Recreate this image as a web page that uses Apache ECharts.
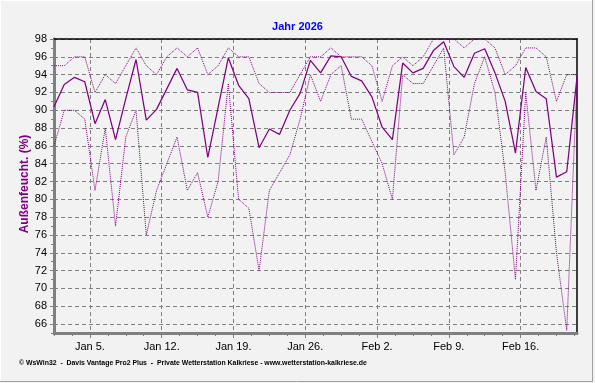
<!DOCTYPE html>
<html>
<head>
<meta charset="utf-8">
<script src="https://cdn.jsdelivr.net/npm/echarts@6/dist/echarts.min.js"></script>
<style>
html,body{margin:0;padding:0;background:#f2f2f2;}
#chart{width:595px;height:383px;}
</style>
</head>
<body>
<div id="chart"></div>
<script>
// Daily values, Jan 1 .. Feb 21 (2026)
const dayCount = 52;
const meanValues = [90.4,92.9,93.7,93.2,88.5,91.2,86.7,91.3,95.7,88.9,90.1,92.4,94.7,92.3,92.0,84.7,90.3,95.9,92.8,91.3,85.8,87.9,87.3,90.0,91.9,95.6,94.2,96.1,96.0,93.8,93.3,91.5,88.1,86.7,95.3,94.2,94.7,96.7,97.7,94.9,93.7,96.4,96.9,94.2,91.0,85.2,94.8,92.1,91.3,82.5,83.1,93.7];
const maxValues  = [95,95,96,96,92,94,93,95,97,95,94,96,97,96,97,94,95,97,96,96,93,92,92,92,94,96,96,97,96,96,96,95,91,95,96,95,96,98,98,98,97,98,98,97,94,95,97,97,96,91,94,94];
const minValues  = [86,90,90,89,81,88,77,87,90,76,81,84,87,81,83,78,82,93,80,79,72,81,83,85,89,94,91,94,95,89,89,86.5,84,80,94,93,93,95,97,85,87,93,96,92,83,71,92,81,87,74,65.3,93.5];
// x-axis tick labels and their day positions (days after Jan 1, 00:00)
const tickLabels = ['Jan 5.','Jan 12.','Jan 19.','Jan 26.','Feb 2.','Feb 9.','Feb 16.'];
const tickDays = [4,11,18,25,32,39,46];
// y-axis labelled ticks
const yTicks = [66,68,70,72,74,76,78,80,82,84,86,88,90,92,94,96,98];

const xMin = 0.5, xMax = dayCount - 0.5;
const yMin = 65, yMax = 98;

function pts(arr){ return arr.map((v,i)=>[i+0.5, v]); }

const xMinor = [];
for (let v = tickDays[0]; v >= xMin - 1e-6; v -= 1.75) xMinor.push(+v.toFixed(3));
for (let v = tickDays[0] + 1.75; v <= xMax + 1e-6; v += 1.75) xMinor.push(+v.toFixed(3));
const yMinor = [];
for (let v = yMin; v < yMax; v += 2) yMinor.push(v);

const purple = '#800080';
const gridGray = '#808080';
const font = 'Liberation Sans, Arial, sans-serif';

const chart = echarts.init(document.getElementById('chart'), null, {renderer:'canvas'});
chart.setOption({
  backgroundColor: '#f2f2f2',
  animation: false,
  title: {
    text: 'Jahr 2026', left: 'center', top: 16,
    textStyle: {color:'#0000ff', fontSize: 11, fontWeight:'bold', fontFamily: font}
  },
  grid: {left: 54, right: 18, top: 39, bottom: 50, containLabel: false, outerBoundsMode: 'none'},
  xAxis: [
    {
      type:'value', min:xMin, max:xMax, position:'bottom',
      axisLine:{show:true, lineStyle:{color:gridGray, width:3}},
      axisTick:{show:true, customValues: tickDays, length:5, lineStyle:{color:gridGray, width:1}},
      axisLabel:{show:true, customValues: tickDays, margin:8, color:'#000', fontSize:11, fontFamily:font,
        formatter: function(v){ const k = tickDays.indexOf(Math.round(v)); return k>=0 ? tickLabels[k] : ''; }},
      splitLine:{show:true, lineStyle:{color:gridGray, width:1, type:[4,3]}}
    },
    {
      type:'value', min:xMin, max:xMax, position:'bottom',
      axisLine:{show:false},
      axisTick:{show:true, customValues: xMinor, length:3, lineStyle:{color:gridGray, width:1}},
      axisLabel:{show:false}, splitLine:{show:false}
    },
    {
      type:'value', min:xMin, max:xMax, position:'top',
      axisLine:{show:true, lineStyle:{color:'#000', width:1.5}},
      axisTick:{show:false}, axisLabel:{show:false}, splitLine:{show:false}
    }
  ],
  yAxis: [
    {
      type:'value', min:yMin, max:yMax, position:'left',
      axisLine:{show:true, lineStyle:{color:gridGray, width:3}},
      axisTick:{show:true, customValues: yTicks, length:4, lineStyle:{color:gridGray, width:1}},
      axisLabel:{show:true, customValues: yTicks, margin:7, color:'#000', fontSize:11, fontFamily:font},
      splitLine:{show:true, lineStyle:{color:gridGray, width:1, type:[4,3]}}
    },
    {
      type:'value', min:yMin, max:yMax, position:'left',
      axisLine:{show:false},
      axisTick:{show:true, customValues: yMinor, length:3, lineStyle:{color:gridGray, width:1}},
      axisLabel:{show:false}, splitLine:{show:false}
    },
    {
      type:'value', min:yMin, max:yMax, position:'right',
      axisLine:{show:true, lineStyle:{color:'#000', width:1.5}},
      axisTick:{show:false}, axisLabel:{show:false}, splitLine:{show:false}
    }
  ],
  series: [
    {name:'max', type:'line', data: pts(maxValues), showSymbol:false, symbol:'none',
      lineStyle:{color:purple, width:1, type:[1,1]}, z:3},
    {name:'min', type:'line', data: pts(minValues), showSymbol:false, symbol:'none',
      lineStyle:{color:purple, width:1, type:[1,1]}, z:3},
    {name:'mean', type:'line', data: pts(meanValues), showSymbol:false, symbol:'none',
      lineStyle:{color:purple, width:1.25}, z:4}
  ],
  graphic: [
    {type:'text', x:25, y:184, rotation: Math.PI/2,
      style:{text:'Außenfeucht. (%)', fill:purple, font:'bold 12px ' + font, textAlign:'center', textVerticalAlign:'middle'}},
    {type:'text', x:19, y:363,
      style:{text:'© WsWin32  -  Davis Vantage Pro2 Plus  -  Private Wetterstation Kalkriese - www.wetterstation-kalkriese.de',
        fill:'#000', font:'bold 6.9px ' + font, textAlign:'left', textVerticalAlign:'middle'}},
    {type:'line', shape:{x1:592.5, y1:0, x2:592.5, y2:382}, style:{stroke:'#a0a0a0', lineWidth:1}},
    {type:'line', shape:{x1:0, y1:381.5, x2:593, y2:381.5}, style:{stroke:'#a0a0a0', lineWidth:1}},
    {type:'line', shape:{x1:0, y1:0.5, x2:592, y2:0.5}, style:{stroke:'#ffffff', lineWidth:1}},
    {type:'line', shape:{x1:0.5, y1:0, x2:0.5, y2:381}, style:{stroke:'#ffffff', lineWidth:1}}
  ]
});
</script>
</body>
</html>
